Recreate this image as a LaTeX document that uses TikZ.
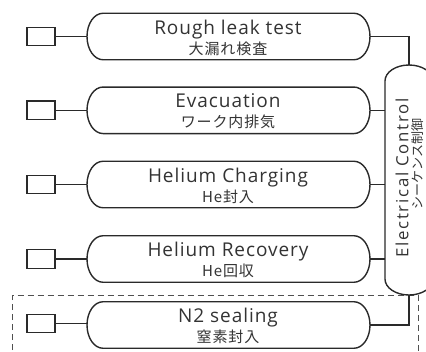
\documentclass[tikz,border=0pt]{standalone}
\usepackage{fontspec}
\setmainfont{Open Sans}
\newfontfamily\enfont[LetterSpace=5]{Open Sans}
\newfontfamily\enctl[LetterSpace=10]{Open Sans}
\newfontfamily\jpfont[LetterSpace=6]{Noto Sans CJK JP}
\newfontfamily\jpctl{Noto Sans CJK JP}
\definecolor{ink}{HTML}{2A2A2A}
\definecolor{txt}{HTML}{333333}
\definecolor{dashc}{HTML}{505050}
\newcommand\hpillout[1]{%
  \draw[outl] ([xshift=16pt]#1.north west) -- ([xshift=-16pt]#1.north east)
    arc[start angle=-90,end angle=90,x radius=16,y radius=23.25]
    -- ([xshift=16pt]#1.south west)
    arc[start angle=90,end angle=270,x radius=16,y radius=23.25] -- cycle;}
\begin{document}
\begin{tikzpicture}[x=1pt,y=-1pt,
  outl/.style={draw=ink,line width=1.4pt},
  pillbox/.style={minimum width=283pt,minimum height=46.5pt,inner sep=0pt,outer sep=0pt},
  ctlbox/.style={minimum width=48pt,minimum height=230pt,inner sep=0pt,outer sep=0pt},
  sq/.style={draw=ink,line width=1.4pt,minimum width=28pt,minimum height=18.5pt,inner sep=0pt,outer sep=0pt},
  conn/.style={draw=ink,line width=1.3pt},
  en/.style={text=txt,font=\enfont\fontsize{19}{19}\selectfont,inner sep=0pt,anchor=base},
  jp/.style={text=txt,font=\jpfont\fontsize{15}{15}\selectfont,inner sep=0pt,anchor=base},
  frame/.style={draw=dashc,line width=1pt,dash pattern=on 6pt off 4pt}
]
\useasboundingbox (0,0) rectangle (426,351);
\clip (0,0) rectangle (426,351);

% dashed frame
\draw[frame] (12,360) -- (12,295.5) -- (418,295.5) -- (418,360);

% pills
\node[pillbox] (p1) at (228.5,36.5) {};
\node[pillbox] (p2) at (228.5,110.3) {};
\node[pillbox] (p3) at (228.5,184.5) {};
\node[pillbox] (p4) at (228.5,259) {};
\node[pillbox] (p5) at (228.5,325) {};
\hpillout{p1}\hpillout{p2}\hpillout{p3}\hpillout{p4}\hpillout{p5}

% labels
\node[en] (t1) at (228,34) {Rough leak test};
\node[jp] (j1) at (228,54) {大漏れ検査};
\node[en] (t2) at (228,107.8) {Evacuation};
\node[jp] (j2) at (228,127.8) {ワーク内排気};
\node[en] (t3) at (228,182) {Helium Charging};
\node[jp] (j3) at (228,202) {He封入};
\node[en] (t4) at (228,256.5) {Helium Recovery};
\node[jp] (j4) at (228,276.5) {He回収};
\node[en] (t5) at (228,322.5) {N2 sealing};
\node[jp] (j5) at (228,342.5) {窒素封入};

% squares
\node[sq] (s1) at (41,36.5) {};
\node[sq] (s2) at (41,110.3) {};
\node[sq] (s3) at (41,184.5) {};
\node[sq] (s4) at (41,259) {};
\node[sq] (s5) at (41,323.5) {};
\foreach \i in {1,...,4} {\draw[conn] (s\i.east) -- (p\i.west);}
\draw[conn] (s5.east) -- (s5.east -| p5.west);

% control pill
\node[ctlbox] (ctl) at (409,180) {};
\draw[outl] ([yshift=-16pt]ctl.north west) -- ([yshift=16pt]ctl.south west)
  arc[start angle=180,end angle=0,x radius=24,y radius=16]
  -- ([yshift=-16pt]ctl.north east)
  arc[start angle=0,end angle=-180,x radius=24,y radius=16] -- cycle;
\node[text=txt,font=\enctl\fontsize{16.8}{16.8}\selectfont,inner sep=0pt,rotate=90] (ce) at (402,178) {Electrical Control};
\node[text=txt,font=\jpctl\fontsize{13}{13}\selectfont,inner sep=0pt,rotate=90] (cj) at (417.5,164) {シーケンス制御};

% connectors to control
\draw[conn] (p1.east) -| (ctl.north);
\draw[conn] (p2.east) -- (p2.east -| ctl.west);
\draw[conn] (p3.east) -- (p3.east -| ctl.west);
\draw[conn] (p4.east) -- (p4.east -| ctl.west);
\draw[conn] (p5.east) -| (ctl.south);
\end{tikzpicture}
\end{document}
